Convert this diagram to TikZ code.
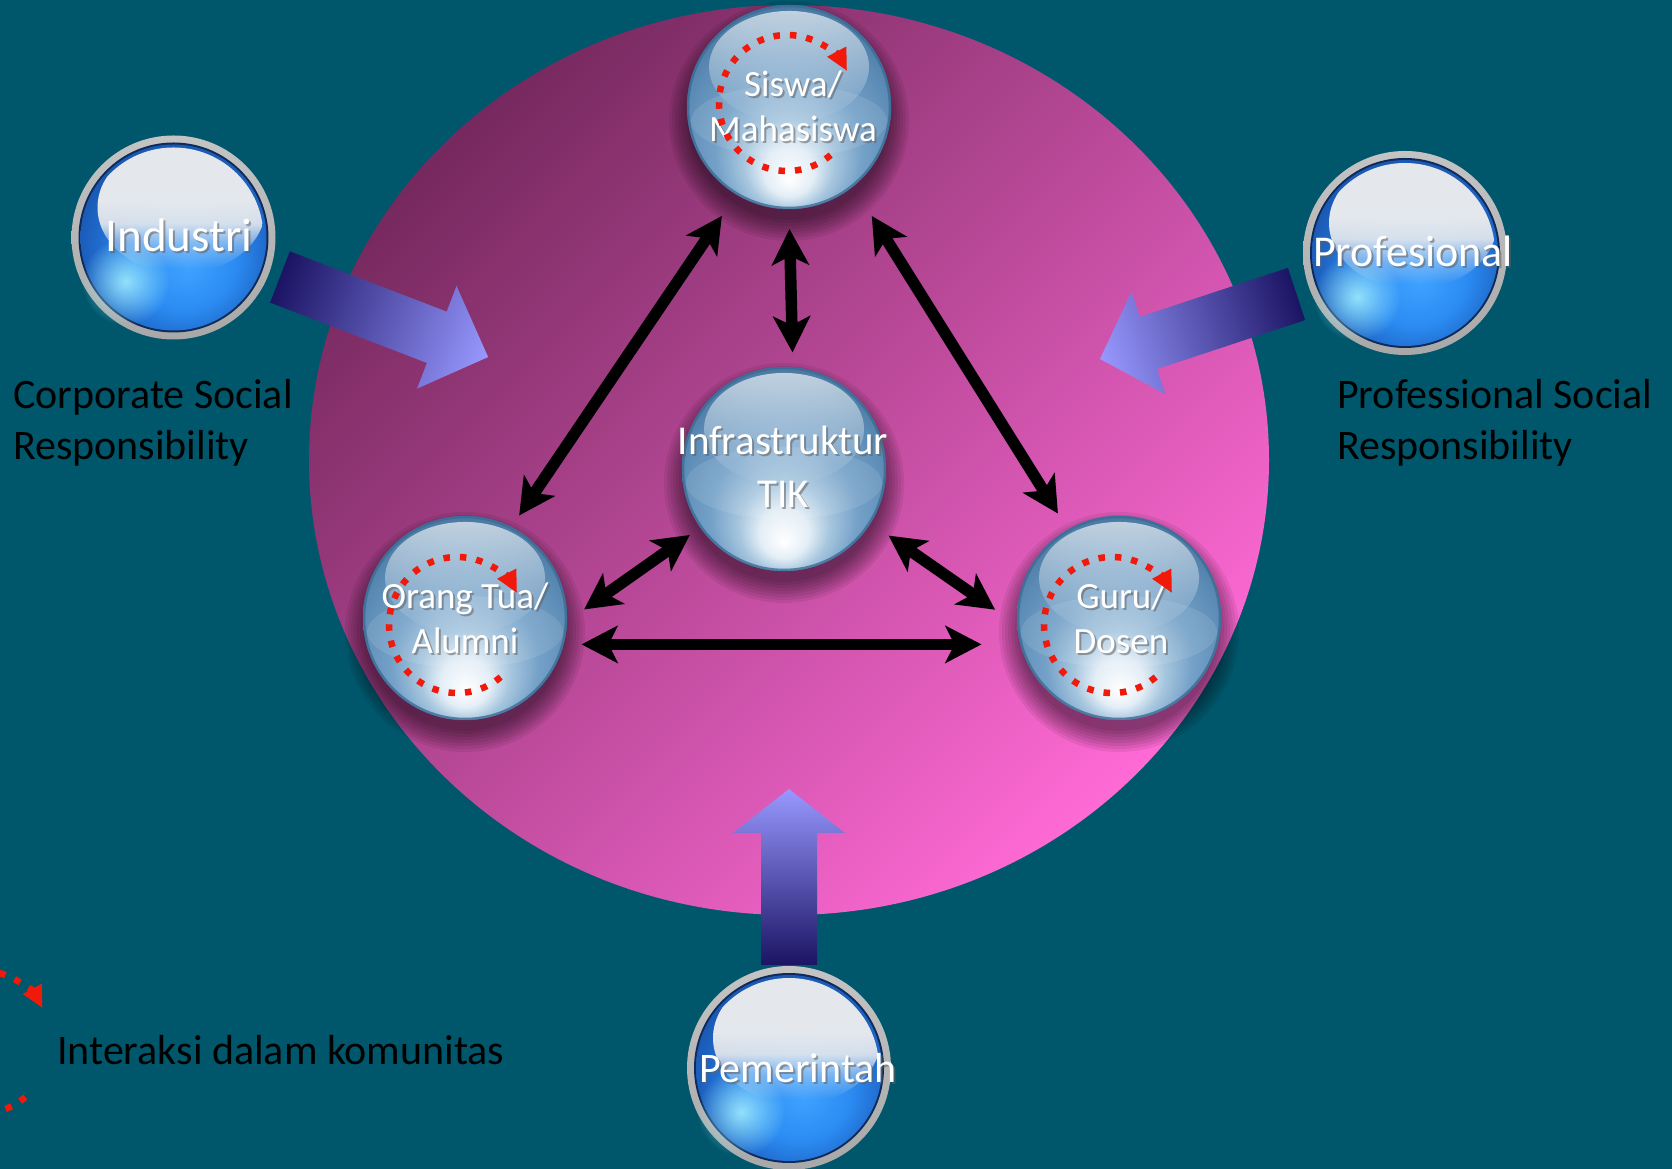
\documentclass[tikz,border=0pt]{standalone}
\usepackage{fontspec}
\setmainfont{Carlito}
\usetikzlibrary{arrows.meta,calc,fadings,shadings}

% palette
\definecolor{bgteal}{HTML}{00576C}
\definecolor{pinkdark}{HTML}{76295E}
\definecolor{pinkmid}{HTML}{C04C99}
\definecolor{pinklight}{HTML}{FF6AD5}
\definecolor{glassA}{HTML}{E4EEF6}
\definecolor{glassB}{HTML}{A8C7DF}
\definecolor{glassC}{HTML}{74A1C8}
\definecolor{glassD}{HTML}{5A8AB4}
\definecolor{glassE}{HTML}{3C6C96}
\definecolor{glassF}{HTML}{2A577D}
\definecolor{glassrim}{HTML}{3B6C94}
\definecolor{btnA}{HTML}{3FA2FF}
\definecolor{btnB}{HTML}{2B8BF2}
\definecolor{btnC}{HTML}{1E66C6}
\definecolor{btnD}{HTML}{15489A}
\definecolor{btnnavy}{HTML}{0E2A5A}
\definecolor{btncyan}{HTML}{A6F2FF}
\definecolor{btnhl}{HTML}{E4E8ED}
\definecolor{ringgrey}{HTML}{C4C4C4}
\definecolor{ringgreydark}{HTML}{A8A8A8}
\definecolor{arrowdark}{HTML}{1B1464}
\definecolor{arrowlight}{HTML}{9898FF}
\definecolor{ringred}{HTML}{F0190A}
\definecolor{txtshadow}{HTML}{606060}

% glass ball: bright spot near the bottom, dark rim at the top
\pgfdeclareradialshading{glassball}{\pgfpoint{0bp}{-18bp}}{%
  color(0bp)=(white); color(6bp)=(glassA); color(11bp)=(glassB);
  color(18bp)=(glassC); color(27bp)=(glassD); color(35bp)=(glassE);
  color(43bp)=(glassF); color(50bp)=(glassF)}
% blue button body
\pgfdeclareradialshading{bluebtn}{\pgfpoint{4bp}{-8bp}}{%
  color(0bp)=(btnA); color(14bp)=(btnB); color(24bp)=(btnC);
  color(34bp)=(btnD); color(50bp)=(btnD)}

% opacity masks
\tikzfading[name=hlfade, top color=transparent!35, bottom color=transparent!100]
\tikzfading[name=glowfade, inner color=transparent!15, outer color=transparent!100]
\pgfdeclareverticalshading{btnfadeshade}{100bp}{%
  color(0bp)=(pgftransparent!100); color(27bp)=(pgftransparent!100);
  color(36bp)=(pgftransparent!60); color(44bp)=(pgftransparent!8);
  color(52bp)=(pgftransparent!0); color(100bp)=(pgftransparent!0)}
\pgfdeclarefading{btnfade}{\pgfuseshading{btnfadeshade}}

\tikzset{
  ballnode/.style={circle, minimum size=204pt, inner sep=0pt, outer sep=0pt},
  balltxt/.style={text=white, align=center, inner sep=0pt, font=\fontsize{37}{45}\selectfont},
  infratxt/.style={text=white, align=center, inner sep=0pt, font=\fontsize{41}{53}\selectfont},
  btntxt/.style={text=white, inner sep=0pt, anchor=base, font=\fontsize{44}{53}\selectfont},
  sidetxt/.style={text=black, align=left, inner sep=0pt, anchor=west, font=\fontsize{42}{51}\selectfont},
  dbl/.style={line width=11.5pt,
    {Stealth[length=36pt,width=37pt,inset=9pt]}-{Stealth[length=36pt,width=37pt,inset=9pt]}},
  ringdots/.style={draw=ringred, line width=6.5pt, dash pattern=on 6.5pt off 10pt,
    -{Triangle[length=22pt,width=20pt]}},
}

% glass sphere with soft shadow
\newcommand\glassball[1]{%
  \foreach \k in {0,...,7} \fill[black, opacity=0.07] ($(#1)+(0,-14)$) circle ({99+3*\k});
  \shade[shading=glassball] (#1) circle (102);
  \begin{scope}
    \clip (#1) circle (101);
    \fill[white, opacity=0.10] ($(#1)+(0,-14)$) ellipse [x radius=98, y radius=36];
    \fill[white, path fading=hlfade] ($(#1)+(0,40)$) ellipse [x radius=80, y radius=56];
  \end{scope}
  \draw[glassrim, line width=2.5pt, opacity=0.8] (#1) circle (101);
}
% glossy blue button with grey bezel
\newcommand\bluebtn[1]{%
  \shade[top color=ringgrey, bottom color=ringgreydark] (#1) circle (102);
  \fill[btnnavy] (#1) circle (95);
  \shade[shading=bluebtn] (#1) circle (93);
  \fill[btncyan, path fading=glowfade] ($(#1)+(-48,-44)$) circle (44);
  \begin{scope}
    \clip (#1) circle (90);
    \fill[btnhl, path fading=btnfade] ($(#1)+(8,30)$) ellipse [x radius=84, y radius=66];
  \end{scope}
}
% broad shaded block arrow: x, y, angle, length, head start, shaft half width, head half width
\newcommand\fatarrow[7]{%
  \begin{scope}[transform canvas={shift={(#1pt,#2pt)}, rotate=#3}]
    \shade[left color=arrowdark, right color=arrowlight]
      (0,#6) -- (#5,#6) -- (#5,#7) -- (#4,0) -- (#5,-#7) -- (#5,-#6) -- (0,-#6) -- cycle;
  \end{scope}}
% circular dotted arrow: radius, centre
\newcommand\ringarrow[2][68]{%
  \draw[ringdots] ($(#2)+(-50:#1)$) arc[start angle=-50, end angle=-332, radius=#1];}
% white label with a soft drop shadow: name, position, style, text
\newcommand\shadowlabel[4]{%
  \node[#3, text=txtshadow, text opacity=0.55] (#1-shadow) at ($(#2)+(2,-2)$) {#4};
  \node[#3] (#1) at (#2) {#4};}

\begin{document}
\begin{tikzpicture}[x=1pt, y=1pt]
  \clip (0,0) rectangle (1672,1169);
  \fill[bgteal] (0,0) rectangle (1672,1169);

  % community disc
  \shade[top color=pinkdark, middle color=pinkmid, bottom color=pinklight, shading angle=45]
    (789,709) ellipse [x radius=480, y radius=455];

  % incoming block arrows
  \fatarrow{280}{892}{-21.04}{223}{168}{27.5}{55}
  \fatarrow{1296.5}{875}{198.3}{207}{156}{27.5}{54}
  \fatarrow{789}{204}{90}{176}{132}{28}{56}

  % outside stakeholders
  \coordinate (industri-c) at (173.5,931.5);
  \coordinate (profesional-c) at (1405,916);
  \coordinate (pemerintah-c) at (789,101);
  \bluebtn{industri-c}
  \bluebtn{profesional-c}
  \bluebtn{pemerintah-c}
  \node[ballnode] (industri) at (industri-c) {};
  \node[ballnode] (profesional) at (profesional-c) {};
  \node[ballnode] (pemerintah) at (pemerintah-c) {};
  \shadowlabel{industri-label}{179,917}{btntxt, font=\fontsize{47}{56}\selectfont}{Industri}
  \shadowlabel{profesional-label}{1413,902}{btntxt}{Profesional}
  \shadowlabel{pemerintah-label}{798,86}{btntxt, font=\fontsize{42}{50}\selectfont}{Pemerintah}

  % community members
  \coordinate (siswa-c) at (789,1062);
  \coordinate (infra-c) at (784,700);
  \coordinate (orang-c) at (465,551);
  \coordinate (guru-c) at (1119,551);
  \glassball{siswa-c}
  \glassball{infra-c}
  \glassball{orang-c}
  \glassball{guru-c}
  \node[ballnode] (siswa) at (siswa-c) {};
  \node[ballnode] (infra) at (infra-c) {};
  \node[ballnode] (orang) at (orang-c) {};
  \node[ballnode] (guru) at (guru-c) {};
  \shadowlabel{siswa-label}{793,1063}{balltxt}{Siswa/\\Mahasiswa}
  \shadowlabel{infra-label}{783,702}{infratxt}{Infrastruktur\\TIK}
  \shadowlabel{orang-label}{465,551}{balltxt}{Orang Tua/\\Alumni}
  \shadowlabel{guru-label}{1121,551}{balltxt}{Guru/\\Dosen}

  % interaction within each group
  \ringarrow{787,1066}
  \ringarrow{457,544}
  \ringarrow{1112,544}

  % two-way links
  \draw[dbl, shorten <=26pt, shorten >=14pt] (siswa.239) -- (orang.63);
  \draw[dbl, shorten <=20pt, shorten >=15pt] (siswa.270) -- (infra.85);
  \draw[dbl, shorten <=35pt, shorten >=19pt] (siswa.309) -- (guru.120);
  \draw[dbl, shorten <=21pt, shorten >=13pt] (orang.358) -- (infra.215);
  \draw[dbl, shorten <=22pt, shorten >=27pt] (infra.328) -- (guru.184);
  \draw[dbl, shorten <=18pt, shorten >=39pt] (orang.345) -- (guru.195);

  % side captions
  \node[sidetxt] (csr) at (13,746) {Corporate Social\\Responsibility};
  \node[sidetxt] (psr) at (1337,746) {Professional Social\\Responsibility};

  % legend
  \ringarrow[72]{-21,127}
  \node[sidetxt, anchor=base west] (legend) at (57,104) {Interaksi dalam komunitas};
\end{tikzpicture}
\end{document}
